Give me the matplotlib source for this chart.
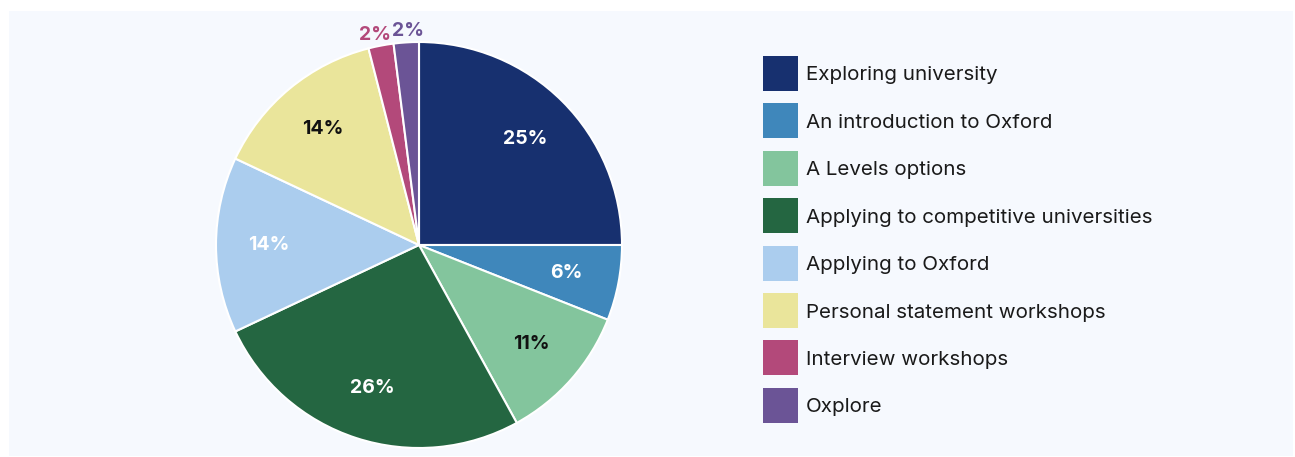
import matplotlib
matplotlib.use("Agg")
import matplotlib.pyplot as plt
import numpy as np
from matplotlib.patches import Rectangle

categories = ["Exploring university", "An introduction to Oxford", "A Levels options",
              "Applying to competitive universities", "Applying to Oxford",
              "Personal statement workshops", "Interview workshops", "Oxplore"]
values = [25, 6, 11, 26, 14, 14, 2, 2]
colors = ["#17306f", "#3f87bb", "#83c59d", "#246641", "#abcdee", "#eae59b", "#b3497a", "#6b5496"]
label_colors = ["white", "white", "#111111", "white", "white", "#111111", "#b3497a", "#6b5496"]
outside = [False, False, False, False, False, False, True, True]

plt.rcParams['font.family'] = ['Inter', 'DejaVu Sans']

W, H = 1295, 457
fig = plt.figure(figsize=(W / 100, H / 100), dpi=100)
fig.patch.set_facecolor("white")
# light panel
fig.patches.append(Rectangle((9 / W, 1 - 456 / H), (1293 - 9) / W, (456 - 11) / H,
                             transform=fig.transFigure, facecolor="#f6f9fe",
                             edgecolor="none", zorder=-10))

cx, cy, R = 419, 245, 203
ax = fig.add_axes([(cx - R) / W, (H - cy - R) / H, 2 * R / W, 2 * R / H])
ax.set_facecolor("none")
wedges, _ = ax.pie(values, colors=colors, startangle=90, counterclock=False,
                   radius=1.0, wedgeprops=dict(edgecolor="white", linewidth=1.5))
ax.set_xlim(-1, 1)
ax.set_ylim(-1, 1)
ax.set_aspect("equal")
ax.axis("off")

total = sum(values)
cum = 0
out_nudge = [-4, 2]
k = 0
for v, c, out in zip(values, label_colors, outside):
    mid = (cum + v / 2) / total
    ang = np.deg2rad(90 - 360 * mid)
    r = 1.055 if out else 0.74
    dx = 0
    if out:
        dx = out_nudge[k]
        k += 1
    ax.annotate(f"{v}%", (r * np.cos(ang), r * np.sin(ang)), xytext=(dx, 0),
                textcoords="offset pixels", ha="center", va="center",
                color=c, fontsize=14, fontweight="bold", annotation_clip=False)
    cum += v

# legend, drawn as squares + labels in figure pixel coordinates
x0, y_first, step, sq = 763, 73.5, 47.4, 35
for i, (lab, col) in enumerate(zip(categories, colors)):
    yc = y_first + i * step
    fig.patches.append(Rectangle((x0 / W, 1 - (yc + sq / 2) / H), sq / W, sq / H,
                                 transform=fig.transFigure, facecolor=col,
                                 edgecolor="none"))
    fig.text((x0 + sq + 8) / W, 1 - yc / H, lab, ha="left", va="center_baseline",
             fontsize=14.8, color="#1a1a1a")

fig.savefig("out.png", dpi=100, facecolor=fig.get_facecolor())
